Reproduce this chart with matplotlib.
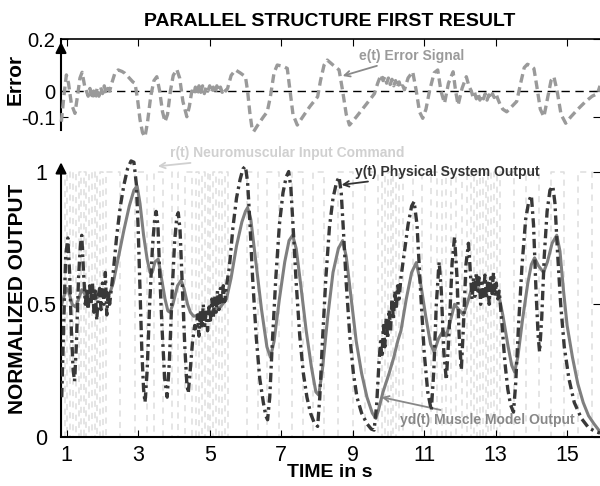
import matplotlib
matplotlib.use("Agg")
import matplotlib.pyplot as plt
import numpy as np

plt.rcParams['font.family'] = ['Liberation Sans', 'DejaVu Sans']

# ---------------- data ----------------
x_ticks = [1, 3, 5, 7, 9, 11, 13, 15]
x_ticklabels = ['1', '3', '5', '7', '9', '11', '13', '15']
err_yticks = [-0.1, 0, 0.2]
err_yticklabels = ['-0.1', '0', '0.2']
out_yticks = [0, 0.5, 1]
out_yticklabels = ['0', '0.5', '1']

# e(t) error signal
e_t = [0.85, 0.92, 0.99, 1.05, 1.13, 1.23, 1.3, 1.37, 1.43, 1.5, 1.55,
       1.6, 1.65, 1.7, 1.75, 1.8, 1.85, 1.9, 1.95, 2.0, 2.05, 2.1, 2.15, 2.2, 2.26,
       2.35, 2.44, 2.55, 2.63, 2.75, 2.85, 2.91, 2.98, 3.05, 3.12, 3.19, 3.26, 3.35,
       3.44, 3.52, 3.6, 3.68, 3.75, 3.82, 3.9, 3.98, 4.08, 4.16, 4.25, 4.36, 4.43, 4.5,
       4.55, 4.6, 4.65, 4.7, 4.75, 4.8, 4.85, 4.9, 4.95, 5.0, 5.05, 5.1, 5.15, 5.2,
       5.25, 5.3, 5.35, 5.4, 5.45, 5.5,
       5.6, 5.72, 5.85, 6.0, 6.06, 6.12, 6.18, 6.23, 6.35, 6.5, 6.61, 6.7, 6.8, 6.89,
       7.05, 7.17, 7.25, 7.33, 7.45, 7.6, 7.8, 8.02, 8.1, 8.2, 8.29, 8.45, 8.62, 8.72,
       8.82, 8.91, 9.1, 9.3, 9.5, 9.61, 9.7, 9.79,
       9.85, 9.9, 9.95, 10.0, 10.05, 10.1, 10.15, 10.2, 10.25, 10.3, 10.35, 10.4, 10.45,
       10.55, 10.68, 10.78, 10.87, 10.96, 11.05, 11.15, 11.28, 11.38, 11.47, 11.57,
       11.68, 11.81, 11.88, 11.95, 12.06, 12.18, 12.25, 12.32,
       12.36, 12.41, 12.46, 12.51, 12.56, 12.61, 12.66, 12.71, 12.76, 12.81, 12.86,
       12.91, 12.96, 13.01, 13.06, 13.12,
       13.2, 13.31, 13.45, 13.59, 13.7, 13.8, 13.89, 14.0, 14.07, 14.15, 14.25, 14.35,
       14.45, 14.55, 14.63, 14.72, 14.83, 14.96, 15.1, 15.3, 15.52, 15.7, 15.85, 15.92]
e_val = [-0.118, -0.02, 0.062, 0.03, -0.05, -0.086, -0.02, 0.05, 0.072, 0.02, 0.0,
         -0.02, 0.01, -0.03, 0.0, -0.025, 0.01, -0.02, 0.015, -0.01, 0.02, -0.01, 0.01, 0.0, 0.03,
         0.07, 0.081, 0.075, 0.068, 0.05, 0.035, 0.03, -0.03, -0.11, -0.16, -0.176, -0.12, -0.02,
         0.04, 0.055, 0.0, -0.08, -0.118, -0.09, 0.0, 0.06, 0.083, 0.05, -0.04, -0.099, -0.06, 0.0,
         -0.015, 0.015, -0.01, 0.02, -0.005, 0.02, -0.01, 0.015, 0.0, 0.02, -0.005, 0.015, -0.01, 0.02,
         0.0, 0.015, -0.005, 0.01, 0.0, 0.01,
         0.06, 0.081, 0.07, 0.055, 0.0, -0.08, -0.14, -0.156, -0.13, -0.1, -0.08, -0.02, 0.07, 0.1,
         0.095, 0.087, 0.0, -0.09, -0.131, -0.1, -0.06, -0.022, 0.04, 0.1, 0.119, 0.1, 0.081, 0.0,
         -0.09, -0.131, -0.1, -0.065, -0.03, -0.01, 0.03, 0.062,
         0.04, 0.055, 0.03, 0.05, 0.025, 0.045, 0.02, 0.04, 0.015, 0.035, 0.01, 0.02, 0.005,
         0.05, 0.074, 0.0, -0.08, -0.105, -0.07, 0.0, 0.07, 0.081, 0.0, -0.047,
         0.03, 0.074, 0.0, -0.054, 0.01, 0.055, 0.02, 0.0,
         -0.02, -0.005, -0.03, -0.01, -0.035, -0.015, -0.03, -0.01, -0.035, -0.015, -0.03,
         -0.01, -0.025, -0.01, -0.03, -0.05,
         -0.07, -0.08, -0.06, -0.04, 0.03, 0.09, 0.103, 0.095, 0.087, 0.02, -0.07, -0.099,
         -0.03, 0.04, 0.055, 0.0, -0.09, -0.124, -0.1, -0.07, -0.04, -0.02, -0.01, 0.02]

# y(t) physical system output
y_t = [0.86, 0.92, 0.97, 1.03, 1.08, 1.13, 1.18, 1.22, 1.27, 1.33, 1.38, 1.42, 1.47, 1.52,
       1.56, 1.6, 1.64, 1.68, 1.72, 1.76, 1.8, 1.84, 1.88, 1.92, 1.96, 2.0, 2.04, 2.08,
       2.12, 2.16, 2.2,
       2.3, 2.4, 2.5, 2.6, 2.7, 2.8, 2.88, 2.95, 3.0, 3.05, 3.1, 3.15, 3.19, 3.25, 3.32,
       3.4, 3.46, 3.5, 3.55, 3.6, 3.67, 3.74, 3.81, 3.87, 3.95, 4.02, 4.08, 4.12, 4.17,
       4.23, 4.3, 4.36, 4.4, 4.46, 4.52, 4.58,
       4.62, 4.66, 4.7, 4.74, 4.78, 4.82, 4.86, 4.9, 4.94, 4.98, 5.02, 5.06, 5.1, 5.14,
       5.18, 5.22, 5.26, 5.3, 5.34, 5.38, 5.42, 5.46,
       5.55, 5.65, 5.75, 5.85, 5.93, 6.0, 6.06, 6.12, 6.2, 6.3, 6.4, 6.5, 6.57, 6.62,
       6.68, 6.75, 6.85, 6.95, 7.05, 7.14, 7.21, 7.27, 7.33, 7.42, 7.52, 7.62, 7.72,
       7.82, 7.92, 8.02, 8.08, 8.15, 8.25, 8.35, 8.45, 8.55, 8.62, 8.68, 8.74, 8.82,
       8.92, 9.02, 9.12, 9.25, 9.4, 9.52, 9.6, 9.67, 9.74,
       9.78, 9.82, 9.86, 9.9, 9.94, 9.98, 10.02, 10.06, 10.1, 10.14, 10.18, 10.22, 10.26,
       10.3, 10.35,
       10.45, 10.55, 10.65, 10.72, 10.8, 10.9, 11.0, 11.1, 11.2, 11.27, 11.34, 11.42,
       11.48, 11.55, 11.62, 11.7, 11.78, 11.85, 11.92, 11.98, 12.04, 12.1, 12.17, 12.24, 12.3,
       12.34, 12.38, 12.42, 12.46, 12.5, 12.54, 12.58, 12.62, 12.66, 12.7, 12.74, 12.78,
       12.82, 12.86, 12.9, 12.94, 12.98, 13.02, 13.06, 13.1,
       13.18, 13.26, 13.34, 13.42, 13.5, 13.56, 13.64, 13.74, 13.84, 13.93, 14.0, 14.06,
       14.13, 14.19, 14.23, 14.29, 14.36, 14.44, 14.52, 14.6, 14.66, 14.73, 14.82, 14.92,
       15.05, 15.2, 15.4, 15.6, 15.8, 15.92]
y_val = [0.15, 0.45, 0.68, 0.75, 0.62, 0.40, 0.25, 0.21, 0.35, 0.60, 0.72, 0.76, 0.62, 0.50,
         0.56, 0.48, 0.57, 0.50, 0.58, 0.47, 0.55, 0.44, 0.53, 0.56, 0.48, 0.58, 0.50, 0.62,
         0.46, 0.55, 0.50,
         0.62, 0.76, 0.87, 0.95, 1.01, 1.04, 1.035, 0.95, 0.78, 0.55, 0.33, 0.18, 0.13, 0.25, 0.50,
         0.72, 0.82, 0.85, 0.80, 0.62, 0.40, 0.22, 0.15, 0.28, 0.55, 0.74, 0.83, 0.845, 0.78,
         0.58, 0.35, 0.20, 0.165, 0.26, 0.36, 0.42,
         0.40, 0.46, 0.38, 0.48, 0.41, 0.50, 0.42, 0.47, 0.40, 0.49, 0.44, 0.52, 0.45, 0.53,
         0.47, 0.55, 0.48, 0.56, 0.50, 0.57, 0.51, 0.56,
         0.64, 0.79, 0.90, 0.97, 1.01, 1.02, 0.96, 0.82, 0.60, 0.38, 0.22, 0.13, 0.08, 0.065,
         0.15, 0.35, 0.60, 0.80, 0.92, 0.98, 1.0, 0.94, 0.80, 0.58, 0.38, 0.24, 0.15,
         0.09, 0.055, 0.04, 0.15, 0.35, 0.60, 0.79, 0.90, 0.96, 0.98, 0.92, 0.78, 0.58,
         0.38, 0.24, 0.15, 0.09, 0.05, 0.03, 0.026, 0.12, 0.29,
         0.36, 0.30, 0.42, 0.34, 0.45, 0.37, 0.48, 0.40, 0.52, 0.44, 0.55, 0.48, 0.57,
         0.52, 0.60,
         0.70, 0.80, 0.87, 0.887, 0.80, 0.55, 0.32, 0.17, 0.10, 0.25, 0.50, 0.66,
         0.55, 0.32, 0.215, 0.40, 0.65, 0.755, 0.60, 0.38, 0.253, 0.42, 0.65, 0.73, 0.60,
         0.52, 0.60, 0.53, 0.62, 0.55, 0.60, 0.50, 0.58, 0.53, 0.61, 0.52, 0.58,
         0.50, 0.60, 0.54, 0.62, 0.53, 0.58, 0.52, 0.55,
         0.42, 0.28, 0.18, 0.12, 0.094, 0.20, 0.42, 0.65, 0.82, 0.89, 0.91, 0.80,
         0.55, 0.38, 0.32, 0.45, 0.68, 0.85, 0.93, 0.945, 0.88, 0.70, 0.50, 0.34,
         0.22, 0.13, 0.07, 0.035, 0.02, 0.015]

# yd(t) muscle model output
yd_t = [0.86, 0.92, 1.0, 1.05, 1.15, 1.25, 1.33, 1.42, 1.5, 1.6, 1.7, 1.8, 1.9, 2.0, 2.1,
        2.2, 2.3, 2.45, 2.6, 2.75, 2.88, 2.97, 3.05, 3.15, 3.25, 3.33, 3.39, 3.47, 3.56,
        3.65, 3.75, 3.83, 3.89, 3.97, 4.1, 4.2, 4.28, 4.38, 4.46, 4.55, 4.7, 4.85, 5.0,
        5.15, 5.3, 5.47, 5.6, 5.75, 5.9, 6.0, 6.06, 6.15, 6.3, 6.45, 6.6, 6.7, 6.8, 6.95,
        7.1, 7.22, 7.32, 7.42, 7.55, 7.7, 7.85, 7.97, 8.05, 8.15, 8.3, 8.45, 8.6, 8.72,
        8.82, 8.95, 9.1, 9.25, 9.4, 9.55, 9.65, 9.72, 9.85, 10.02, 10.15, 10.27, 10.35,
        10.5, 10.65, 10.78, 10.9, 11.05, 11.18, 11.28, 11.4, 11.53, 11.62, 11.72, 11.85,
        11.97, 12.1, 12.2, 12.32, 12.5, 12.7, 12.9, 13.08, 13.2, 13.35, 13.45, 13.53,
        13.62, 13.75, 13.9, 14.0, 14.09, 14.2, 14.34, 14.45, 14.58, 14.71, 14.8, 14.9,
        15.0, 15.15, 15.3, 15.45, 15.6, 15.75, 15.92]
yd_val = [0.50, 0.53, 0.56, 0.55, 0.50, 0.49, 0.52, 0.555, 0.54, 0.52, 0.54, 0.52, 0.53, 0.55,
          0.53, 0.54, 0.58, 0.68, 0.78, 0.87, 0.93, 0.945, 0.88, 0.76, 0.67, 0.62, 0.62, 0.66,
          0.67, 0.60, 0.52, 0.475, 0.47, 0.50, 0.57, 0.59, 0.56, 0.50, 0.47, 0.455, 0.46, 0.47,
          0.47, 0.48, 0.49, 0.52, 0.60, 0.72, 0.81, 0.85, 0.864, 0.82, 0.65, 0.48, 0.34, 0.30,
          0.36, 0.52, 0.66, 0.74, 0.76, 0.71, 0.57, 0.40, 0.26, 0.17, 0.158, 0.25, 0.45, 0.62,
          0.71, 0.74, 0.68, 0.53, 0.36, 0.24, 0.15, 0.09, 0.07, 0.10, 0.17, 0.24, 0.30, 0.366,
          0.40, 0.52, 0.62, 0.657, 0.58, 0.45, 0.35, 0.32, 0.37, 0.40, 0.38, 0.43, 0.50, 0.48,
          0.46, 0.50, 0.555, 0.56, 0.55, 0.56, 0.54, 0.46, 0.34, 0.27, 0.245, 0.30, 0.44, 0.58,
          0.65, 0.675, 0.645, 0.62, 0.66, 0.73, 0.76, 0.70, 0.55, 0.42, 0.30, 0.20, 0.13, 0.08,
          0.05, 0.02]

# r(t) neuromuscular input command: switching instants of the 0/1 command
r_start_level = 1
r_switch = [0.95, 1.02, 1.1, 1.18, 1.26, 1.33, 1.4, 1.47, 1.55, 1.62, 1.7, 1.78, 1.85,
            1.93, 2.02, 2.1, 2.5, 2.9, 3.25, 3.45, 3.7, 3.95, 4.1, 4.3, 4.5, 4.62, 4.7,
            4.78, 4.86, 4.94, 5.02, 5.1, 5.18, 5.26, 5.34, 5.42, 5.5, 6.05, 6.35, 6.6,
            6.95, 7.3, 7.6, 7.9, 8.2, 8.6, 9.0, 9.35, 9.7, 9.82, 9.9, 9.98, 10.06, 10.14,
            10.22, 10.3, 10.4, 10.7, 10.95, 11.2, 11.35, 11.5, 11.62, 11.75, 11.9, 12.05,
            12.2, 12.32, 12.4, 12.48, 12.56, 12.64, 12.72, 12.8, 12.88, 12.96, 13.04,
            13.12, 13.5, 13.85, 14.2, 14.55, 14.9, 15.3, 15.7]

XLIM = (0.84, 15.92)

# ---------------- figure ----------------
fig = plt.figure(figsize=(6.0, 4.86), dpi=100)

# ---- top panel: error ----
ax1 = fig.add_axes([0.1017, 0.7325, 0.8983, 0.1872])
ax1.set_xlim(*XLIM)
ax1.set_ylim(-0.15, 0.2)
ax1.axhline(0, color='black', lw=1.0, ls=(0, (6, 4)), zorder=1)
ax1.plot(e_t, e_val, color='#9a9a9a', lw=2.4, ls=(0, (2.6, 1.4)), zorder=3,
         clip_on=False)
for s in ['bottom', 'right']:
    ax1.spines[s].set_visible(False)
ax1.spines['top'].set_linewidth(1.2)
ax1.spines['left'].set_linewidth(1.5)
ax1.set_xticks(x_ticks)
ax1.tick_params(axis='x', direction='in', top=True, bottom=False,
                labeltop=False, labelbottom=False, length=5)
ax1.set_yticks(err_yticks)
ax1.set_yticklabels(err_yticklabels)
ax1.tick_params(axis='y', direction='in', left=True, right=True, length=5,
                labelsize=14.5, pad=4)
ax1.annotate('', xy=(XLIM[0], 0.2), xytext=(XLIM[0], 0.14),
             arrowprops=dict(arrowstyle='-|>', color='black', lw=1.5,
                             mutation_scale=16), annotation_clip=False)
ax1.annotate('e(t) Error Signal', xy=(8.72, 0.058), xytext=(9.17, 0.136),
             fontsize=10, fontweight='bold', color='#9a9a9a', va='center', ha='left',
             arrowprops=dict(arrowstyle='->', color='#8a8a8a', lw=1.3,
                             shrinkA=1, shrinkB=0))

# ---- bottom panel: normalized output ----
ax2 = fig.add_axes([0.1017, 0.1008, 0.8983, 0.5844])
ax2.set_xlim(*XLIM)
ax2.set_ylim(0, 1.07)

r_t = [XLIM[0]] + r_switch + [XLIM[1]]
r_val = []
lvl = r_start_level
r_val.append(lvl)
for _ in r_switch:
    lvl = 1 - lvl
    r_val.append(lvl)
r_val.append(lvl)
ax2.plot(r_t, r_val, drawstyle='steps-post', color='#dedede', lw=1.1,
         ls=(0, (4, 3.5)), zorder=1)
ax2.plot(yd_t, yd_val, color='#7f7f7f', lw=2.2, zorder=3)
ax2.plot(y_t, y_val, color='#383838', lw=2.4, ls=(0, (2.8, 1.3, 0.8, 1.3)), zorder=4)

for s in ['top', 'right', 'left']:
    ax2.spines[s].set_visible(False)
ax2.spines['bottom'].set_linewidth(1.5)
ax2.set_xticks(x_ticks)
ax2.set_xticklabels(x_ticklabels)
ax2.tick_params(axis='x', direction='in', length=5, labelsize=15.5, pad=6)
ax2.set_yticks(out_yticks)
ax2.set_yticklabels(out_yticklabels, ha='center')
ax2.tick_params(axis='y', direction='in', left=False, right=True, length=5,
                labelsize=15.5, pad=14)
ax2.annotate('', xy=(XLIM[0], 1.035), xytext=(XLIM[0], 0.0),
             arrowprops=dict(arrowstyle='-|>', color='black', lw=1.5,
                             mutation_scale=16, shrinkA=0, shrinkB=0),
             annotation_clip=False)

ax2.annotate('r(t) Neuromuscular Input Command', xy=(3.55, 1.02), xytext=(3.88, 1.07),
             fontsize=10, fontweight='bold', color='#d0d0d0', va='center', ha='left',
             annotation_clip=False,
             arrowprops=dict(arrowstyle='->', color='#d0d0d0', lw=1.3,
                             shrinkA=1, shrinkB=0))
ax2.annotate('y(t) Physical System Output', xy=(8.69, 0.95), xytext=(9.06, 1.0),
             fontsize=10, fontweight='bold', color='#333333', va='center', ha='left',
             arrowprops=dict(arrowstyle='->', color='#333333', lw=1.3,
                             shrinkA=1, shrinkB=0))
ax2.annotate('yd(t) Muscle Model Output', xy=(9.81, 0.15), xytext=(10.32, 0.064),
             fontsize=10, fontweight='bold', color='#888888', va='center', ha='left',
             arrowprops=dict(arrowstyle='->', color='#888888', lw=1.3,
                             shrinkA=1, shrinkB=0))

# ---- labels ----
fig.text(0.55, 0.955, 'PARALLEL STRUCTURE FIRST RESULT', ha='center', va='center',
         fontsize=14, fontweight='bold')
fig.text(0.025, 0.837, 'Error', rotation=90, ha='center', va='center',
         fontsize=15, fontweight='bold')
fig.text(0.029, 0.385, 'NORMALIZED OUTPUT', rotation=90, ha='center', va='center',
         fontsize=15, fontweight='bold')
fig.text(0.55, 0.027, 'TIME in s', ha='center', va='center',
         fontsize=14, fontweight='bold')

fig.savefig('out.png', dpi=100)
